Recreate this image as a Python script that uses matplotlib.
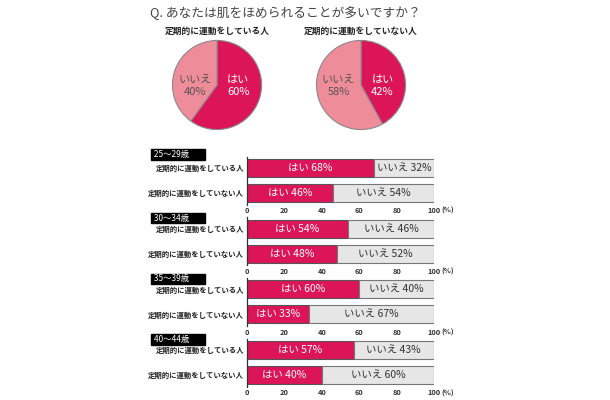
import numpy as np
import matplotlib
matplotlib.use('Agg')
import matplotlib.pyplot as plt

plt.rcParams['font.family'] = ['Noto Sans CJK JP', 'DejaVu Sans']

HAI = '#DC1558'
IIE_PIE = '#EE8C99'
IIE_BAR = '#E6E6E6'

title = 'Q. あなたは肌をほめられることが多いですか？'
pie_titles = ['定期的に運動をしている人', '定期的に運動をしていない人']
pie_hai = [60, 42]

age_groups = ['25～29歳', '30～34歳', '35～39歳', '40～44歳']
row_labels = ['定期的に運動をしている人', '定期的に運動をしていない人']
hai_active = [68, 54, 60, 57]
hai_inactive = [46, 48, 33, 40]
x_ticks = [0, 20, 40, 60, 80, 100]

W, H = 610, 400
fig = plt.figure(figsize=(W / 100, H / 100), dpi=100)


def rect(x0, y0, x1, y1):
    # pixel box (top-left origin) -> figure fraction
    return [x0 / W, 1 - y1 / H, (x1 - x0) / W, (y1 - y0) / H]


fig.text(150 / W, 1 - 13 / H, title, fontsize=9.2, color='#444444',
         ha='left', va='center')

# pies
for i, (cx, name, hai) in enumerate(zip([217, 361], pie_titles, pie_hai)):
    ax = fig.add_axes(rect(cx - 45, 40, cx + 45, 130))
    vals = [hai, 100 - hai]
    ax.pie(vals, colors=[HAI, IIE_PIE], startangle=90, counterclock=False,
           wedgeprops=dict(edgecolor='#8a8a8a', linewidth=0.8))
    ax.set_aspect('equal')
    ax.set_xlim(-1.01, 1.01)
    ax.set_ylim(-1.01, 1.01)
    ang_h = np.deg2rad(90 - hai * 3.6 / 2)
    ang_i = np.deg2rad(90 - hai * 3.6 - (100 - hai) * 3.6 / 2)
    ax.text(0.5 * np.cos(ang_h), -0.02, f'はい\n{hai}%', color='white',
            fontsize=8, ha='center', va='center', linespacing=1.2)
    ax.text(0.52 * np.cos(ang_i), -0.02, f'いいえ\n{100 - hai}%', color='#555555',
            fontsize=8, ha='center', va='center', linespacing=1.2)
    fig.text(cx / W, 1 - 31 / H, name, fontsize=6.3, fontweight='bold',
             ha='center', va='center', color='#222222')

# stacked bars
for g, (grp, ha_, hi_) in enumerate(zip(age_groups, hai_active, hai_inactive)):
    top = 156.5 + g * 60.7
    ax = fig.add_axes(rect(247, top, 434, top + 48))
    hai_vals = [ha_, hi_]
    iie_vals = [100 - ha_, 100 - hi_]
    ypos = np.arange(2)
    ax.barh(ypos, hai_vals, height=0.72, color=HAI, edgecolor='#555555',
            linewidth=0.8)
    ax.barh(ypos, iie_vals, left=hai_vals, height=0.72, color=IIE_BAR,
            edgecolor='#777777', linewidth=0.8)
    for y, h, n in zip(ypos, hai_vals, iie_vals):
        ax.text(h / 2, y, f'はい {h}%', color='white', fontsize=7.5,
                ha='center', va='center')
        ax.text(h + n / 2, y, f'いいえ {n}%', color='#333333', fontsize=7.5,
                ha='center', va='center')
    ax.set_xlim(0, 100)
    ax.set_ylim(1.46, -0.46)
    ax.set_yticks(ypos)
    ax.set_yticklabels(row_labels, fontsize=5.3, fontweight='bold',
                       color='#222222')
    ax.set_xticks(x_ticks)
    ax.set_xticklabels([str(t) for t in x_ticks], fontsize=5.3,
                       fontweight='bold', color='#333333')
    ax.tick_params(length=0, pad=2)
    for s in ['top', 'right', 'bottom']:
        ax.spines[s].set_visible(False)
    ax.spines['left'].set_color('#333333')
    ax.spines['left'].set_linewidth(0.9)
    ax.annotate('(%)', xy=(1, 0), xycoords='axes fraction', xytext=(5, -2),
                textcoords='offset points', fontsize=5.3, fontweight='bold',
                color='#333333', ha='left', va='top')
    ax.patch.set_alpha(0)
    hdr_y = top + 1.0 if g else top - 2.0
    fig.text(152 / W, 1 - hdr_y / H, f' {grp}' + ' ' * 8, fontsize=6,
             color='white', ha='left', va='center',
             bbox=dict(facecolor='black', edgecolor='black', pad=0.5))

fig.savefig('out.png', dpi=100, facecolor='white')
